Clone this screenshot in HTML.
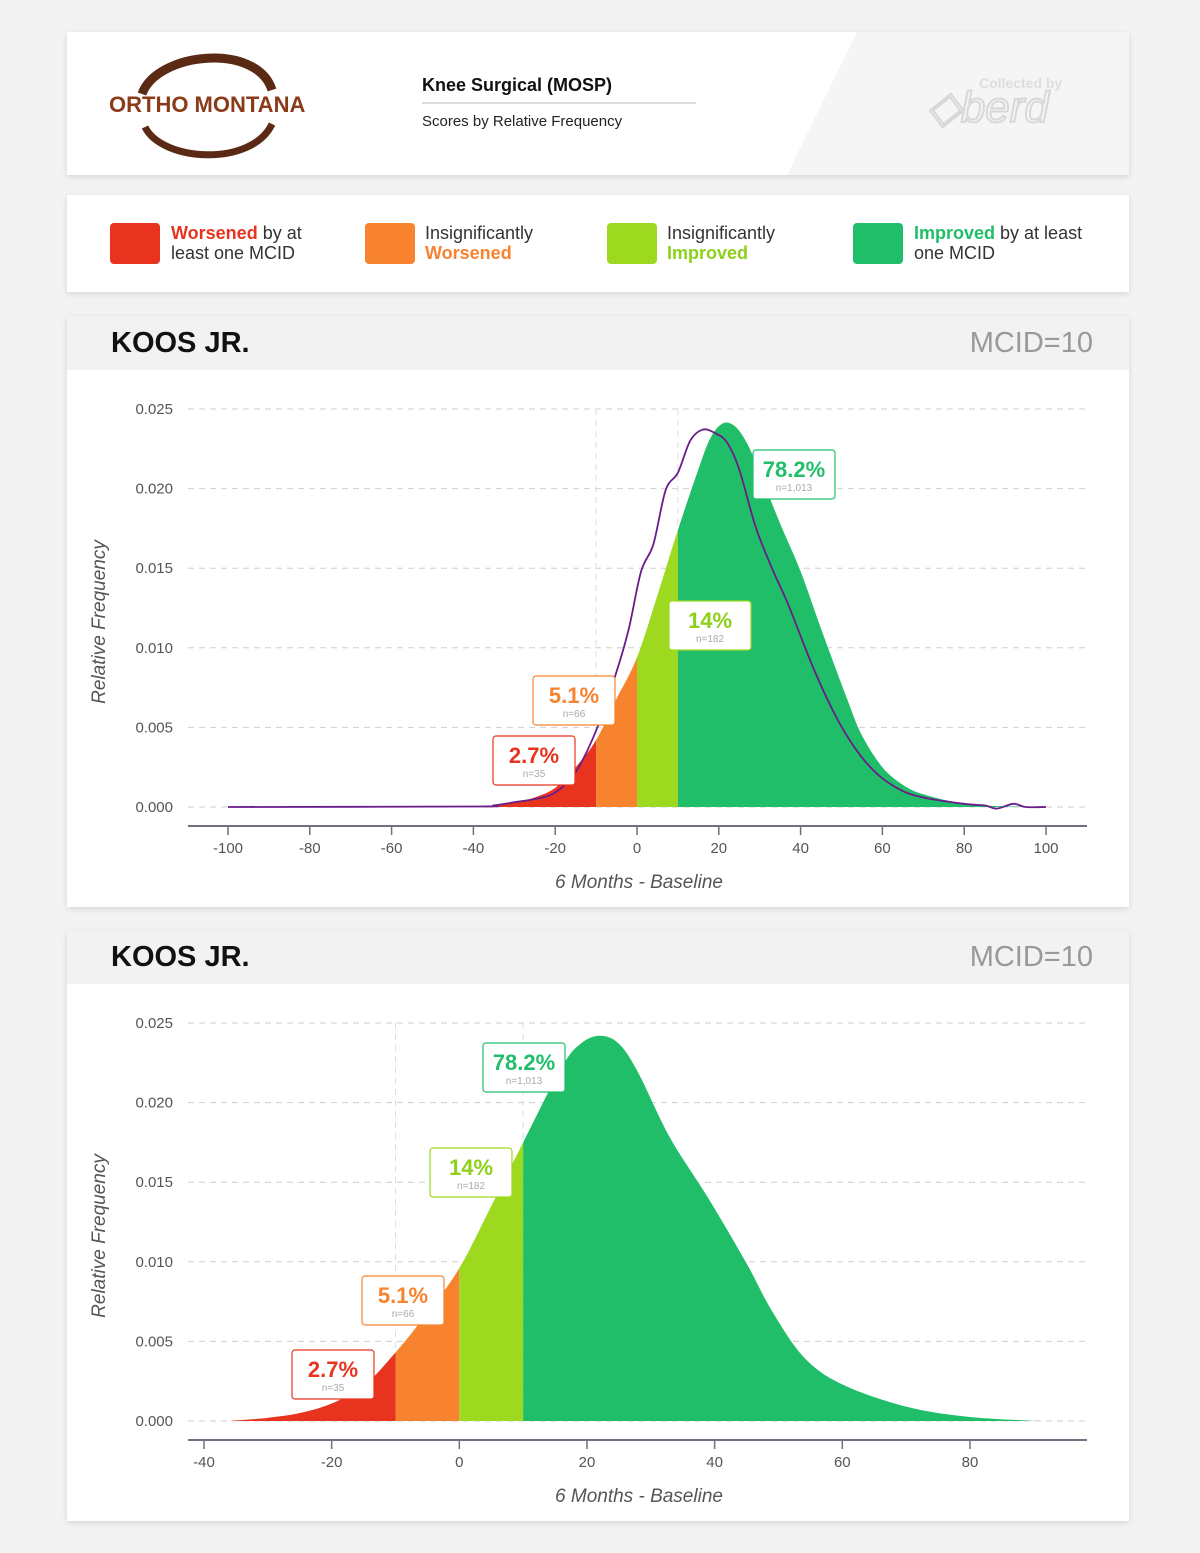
<!DOCTYPE html>
<html><head><meta charset="utf-8">
<style>
body{margin:0;background:#f4f4f4;font-family:"Liberation Sans",sans-serif;}
.wrap{position:relative;width:1200px;height:1553px;overflow:hidden;background:#f3f3f3;}
.card{position:absolute;left:67px;width:1062px;background:#fff;box-shadow:0 2px 6px rgba(0,0,0,0.12);}
.lg{position:absolute;top:28px;font-size:18px;line-height:20px;color:#333;}
.sw{position:absolute;top:28px;width:50px;height:41px;border-radius:4px;}
.band{position:absolute;left:0;top:0;width:1062px;height:54px;background:#f2f2f2;}
.ttl{position:absolute;left:44px;top:11px;font-size:29px;font-weight:bold;color:#111;}
.mcid{position:absolute;right:36px;top:11px;font-size:29px;color:#999;}
svg text{font-family:"Liberation Sans",sans-serif;}
</style></head><body>
<div class="wrap">
<div class="card" style="top:32px;height:143px;">
  <svg width="1062" height="143" style="position:absolute;left:0;top:0">
    <polygon points="790,0 1062,0 1062,143 720,143" fill="#f5f5f5"/>
    <path d="M75,62 C90,20 190,10 205,58" stroke="#5a2a14" stroke-width="9" fill="none"/>
    <path d="M78,95 C95,130 185,135 205,92" stroke="#5a2a14" stroke-width="7" fill="none"/>
    <text x="42" y="80" font-size="22" font-family="Liberation Serif" fill="#8b3a1a" font-weight="bold">ORTHO MONTANA</text>
    <text x="912" y="56" font-size="14" fill="#ddd" font-weight="bold">Collected by</text>
    <text x="860" y="90" font-size="44" fill="none" stroke="#d8d8d8" stroke-width="2" font-style="italic">◇berd</text>
  </svg>
  <div style="position:absolute;left:355px;top:43px;font-size:18px;font-weight:bold;color:#111">Knee Surgical (MOSP)</div>
  <div style="position:absolute;left:355px;top:70px;width:274px;height:2px;background:#ddd"></div>
  <div style="position:absolute;left:355px;top:81px;font-size:15px;color:#222">Scores by Relative Frequency</div>
</div>
<div class="card" style="top:195px;height:97px;">
  <div class="sw" style="left:43px;background:#e8341f"></div>
  <div class="lg" style="left:104px"><b style="color:#e8341f">Worsened</b> by at<br>least one MCID</div>
  <div class="sw" style="left:298px;background:#f7832f"></div>
  <div class="lg" style="left:358px">Insignificantly<br><b style="color:#f7832f">Worsened</b></div>
  <div class="sw" style="left:540px;background:#9dd91e"></div>
  <div class="lg" style="left:600px">Insignificantly<br><b style="color:#8cd019">Improved</b></div>
  <div class="sw" style="left:786px;background:#21be6a"></div>
  <div class="lg" style="left:847px"><b style="color:#21be6a">Improved</b> by at least<br>one MCID</div>
</div>
<div class="card" style="top:316px;height:591px;">
  <div class="band"></div><div class="ttl">KOOS JR.</div><div class="mcid">MCID=10</div>
</div>
<div class="card" style="top:930px;height:591px;">
  <div class="band"></div><div class="ttl">KOOS JR.</div><div class="mcid">MCID=10</div>
</div>
<svg id="s" width="1200" height="1553" style="position:absolute;left:0;top:0"></svg>
</div>
<script>
const c1X=[-40,-35,-30,-25,-20,-15,-10,-5,0,5,10,15,18,21,24,27,30,35,40,45,51.5,55,60,65,70,80,90,100];
const c1Y=[0.00003,0.0001,0.0003,0.0006,0.0012,0.0025,0.0042,0.0068,0.0094,0.0133,0.0174,0.0212,0.0232,0.0241,0.0239,0.0228,0.021,0.0178,0.0148,0.0112,0.0067,0.0045,0.0025,0.0014,0.0008,0.0002,0.00005,0];
const p1X=[-100,-40,-35,-30,-25,-20,-15,-10,-5,-2,1,4,7,10,13,16,19,22,25,29,33,37,43,48,52,56,60,65,70,80,85,88,92,95,100];
const p1Y=[0,0.00003,0.0001,0.0003,0.0005,0.0009,0.0022,0.0048,0.0085,0.0112,0.0148,0.0165,0.0199,0.021,0.023,0.0237,0.0235,0.0229,0.0212,0.0176,0.015,0.0127,0.0088,0.006,0.0042,0.0028,0.0018,0.001,0.0006,0.0002,0.0001,-0.0001,0.0002,0,0];
const c2X=[-36,-30,-25,-20,-15,-10,-5,0,5,10,16,19,22,25,28,33,39,45,49,54,60,70,80,91];
const c2Y=[0,0.0002,0.0005,0.0011,0.0022,0.0043,0.0068,0.0096,0.0135,0.0175,0.0222,0.0237,0.0242,0.0237,0.0219,0.0178,0.014,0.0099,0.0069,0.004,0.0023,0.0009,0.00025,0];
const yTicks=["0.000","0.005","0.010","0.015","0.020","0.025"];
const x1Ticks=[-100,-80,-60,-40,-20,0,20,40,60,80,100];
const x2Ticks=[-40,-20,0,20,40,60,80];
const bands=[-10,0,10];
const pcts=["2.7%","5.1%","14%","78.2%"];
const ns=["n=35","n=66","n=182","n=1,013"];
const cols=["#e8341f","#f7832f","#9dd91e","#21be6a"];
const tcols=["#e8341f","#f7832f","#8cd019","#21be6a"];
const S=document.getElementById('s');const NS="http://www.w3.org/2000/svg";
function mk(t,a,p){const e=document.createElementNS(NS,t);for(const k in a)e.setAttribute(k,a[k]);(p||S).appendChild(e);return e;}
function path(xs,ys,X,Y){const P=xs.map((x,i)=>[X(x),Y(ys[i])]);let d="M"+P[0][0]+","+P[0][1];
 for(let i=0;i<P.length-1;i++){const p0=P[Math.max(0,i-1)],p1=P[i],p2=P[i+1],p3=P[Math.min(P.length-1,i+2)];
 d+=" C"+(p1[0]+(p2[0]-p0[0])/6)+","+(p1[1]+(p2[1]-p0[1])/6)+" "+(p2[0]-(p3[0]-p1[0])/6)+","+(p2[1]-(p3[1]-p1[1])/6)+" "+p2[0]+","+p2[1];}return d;}
function chart(id,o){
 const X=v=>o.x0+(v-o.xmin)*o.kx, Y=v=>o.y0-v*15920;
 yTicks.forEach((t,i)=>{const v=parseFloat(t);
  const g=mk('line',{x1:188,x2:1087,y1:Y(v),y2:Y(v),stroke:'#cfcfcf','stroke-dasharray':'6 5'});
  const tx=mk('text',{x:173,y:Y(v)+5,'text-anchor':'end','font-size':15,fill:'#555'});tx.textContent=t;});
 o.vgrid.forEach(v=>{const l=mk('line',{x1:X(v),x2:X(v),y1:Y(0.025),y2:Y(0),stroke:'#ddd','stroke-dasharray':'6 5'});});
 const d=path(o.xs,o.ys,X,Y)+" L"+X(o.xs[o.xs.length-1])+","+Y(0)+" L"+X(o.xs[0])+","+Y(0)+"Z";
 const edges=[-1e3,...bands,1e3];
 for(let i=0;i<4;i++){const cp=mk('clipPath',{id:id+'c'+i});
  const a=Math.max(X(edges[i]),0),b=Math.min(X(edges[i+1]),1200);mk('rect',{x:a,y:0,width:b-a,height:1553},cp);
  const ar=mk('path',{d:d,fill:cols[i],'clip-path':'url(#'+id+'c'+i+')'});}
 if(o.px){const l=mk('path',{d:path(o.px,o.py,X,Y),fill:'none',stroke:'#6a1d8a','stroke-width':1.8});}
 const ax=mk('line',{x1:188,x2:1087,y1:o.y0+19,y2:o.y0+19,stroke:'#707080','stroke-width':2});
 o.ticks.forEach(v=>{mk('line',{x1:X(v),x2:X(v),y1:o.y0+19,y2:o.y0+28,stroke:'#707080','stroke-width':1.5});
  const t=mk('text',{x:X(v),y:o.y0+46,'text-anchor':'middle','font-size':15,fill:'#555'});t.textContent=v;});
 const xt=mk('text',{x:639,y:o.y0+81,'text-anchor':'middle','font-size':19,'font-style':'italic',fill:'#555'});xt.textContent="6 Months - Baseline";
 const yt=mk('text',{x:0,y:0,'text-anchor':'middle','font-size':19,'font-style':'italic',fill:'#555',transform:'translate(105,'+(o.y0-185)+') rotate(-90)'});yt.textContent="Relative Frequency";
 o.boxes.forEach((b,i)=>{const g=mk('g',{});
  mk('rect',{x:b[0],y:b[1],width:82,height:49,rx:3,fill:'#fff',stroke:cols[i],'stroke-width':1.2},g);
  const t=mk('text',{x:b[0]+41,y:b[1]+27,'text-anchor':'middle','font-size':22,'font-weight':'bold',fill:tcols[i]},g);t.textContent=pcts[i];
  const n=mk('text',{x:b[0]+41,y:b[1]+41,'text-anchor':'middle','font-size':10,fill:'#aaa'},g);n.textContent=ns[i];});
}
chart('a',{x0:228,xmin:-100,kx:4.09,y0:807,xs:c1X,ys:c1Y,px:p1X,py:p1Y,ticks:x1Ticks,vgrid:[-10,10],boxes:[[493,736],[533,676],[669,601],[753,450]]});
chart('b',{x0:204,xmin:-40,kx:6.383,y0:1421,xs:c2X,ys:c2Y,ticks:x2Ticks,vgrid:[-10,10],boxes:[[292,1350],[362,1276],[430,1148],[483,1043]]});
</script>
</body></html>
